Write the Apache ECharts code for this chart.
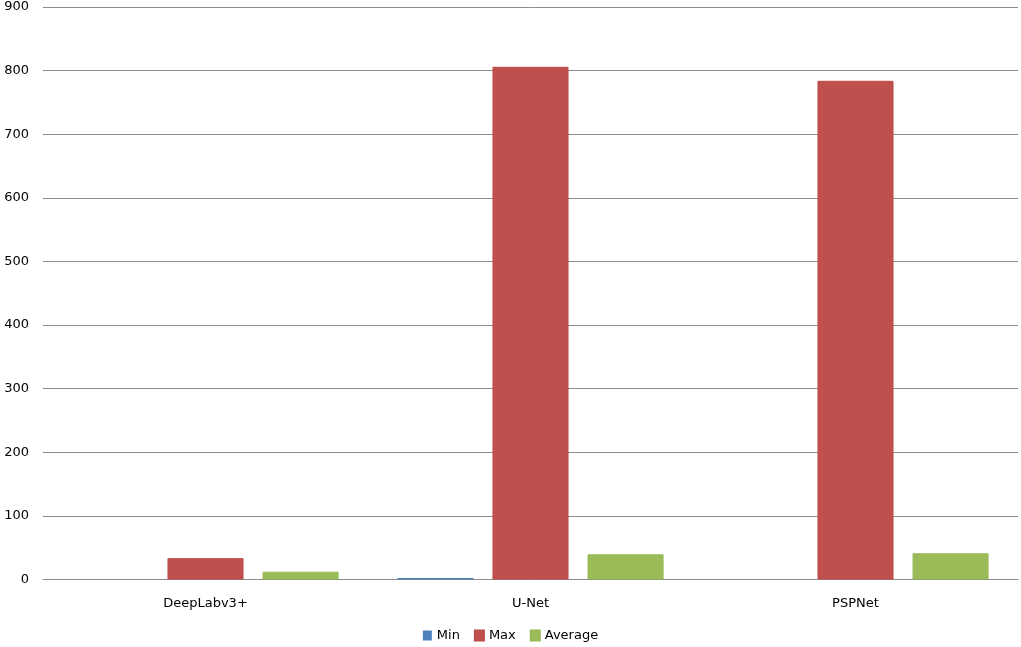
<!DOCTYPE html>
<html>
<head>
<meta charset="utf-8">
<script src="https://cdn.jsdelivr.net/npm/echarts@6/dist/echarts.min.js"></script>
<style>html,body{margin:0;padding:0;background:#fff;}#c{width:1021px;height:647px;}</style>
</head>
<body>
<div id="c"></div>
<script>
const categories = ['DeepLabv3+', 'U-Net', 'PSPNet'];
const minValues = [0, 2.5, 0];
const maxValues = [33.5, 806, 784];
const avgValues = [12.3, 39.6, 41.2];
const yTicks = [0, 100, 200, 300, 400, 500, 600, 700, 800, 900];

const chart = echarts.init(document.getElementById('c'), null, {renderer: 'canvas'});
const font = 'Verdana, "DejaVu Sans", sans-serif';
chart.setOption({
  animation: false,
  backgroundColor: '#fff',
  grid: {left: 43, right: 3, top: 7, bottom: 67.5, containLabel: false},
  legend: {
    bottom: 0, left: 'center',
    itemWidth: 9, itemHeight: 10, itemGap: 14,
    icon: 'rect',
    textStyle: {fontFamily: font, fontSize: 13, color: '#000'},
    data: ['Min', 'Max', 'Average']
  },
  xAxis: {
    type: 'category', data: categories,
    axisTick: {show: false},
    axisLine: {lineStyle: {color: '#8c8c8c', width: 1}},
    axisLabel: {fontFamily: font, fontSize: 13, color: '#000', margin: 18}
  },
  yAxis: {
    type: 'value', min: yTicks[0], max: yTicks[yTicks.length - 1], interval: 100,
    axisLine: {show: false}, axisTick: {show: false},
    splitLine: {lineStyle: {color: '#8c8c8c', width: 1}},
    axisLabel: {fontFamily: font, fontSize: 13, color: '#000', margin: 14}
  },
  series: [
    {name: 'Min', type: 'bar', data: minValues, barWidth: '23.4%', barGap: '25%',
      itemStyle: {color: '#4F81BD', borderColor: '#4A7EBB', borderWidth: 0}},
    {name: 'Max', type: 'bar', data: maxValues, barWidth: '23.4%', barGap: '25%',
      itemStyle: {color: '#C0504D', borderColor: '#BE4B48', borderWidth: 1}},
    {name: 'Average', type: 'bar', data: avgValues, barWidth: '23.4%', barGap: '25%',
      itemStyle: {color: '#9BBB59', borderColor: '#98B954', borderWidth: 1}}
  ]
});
</script>
</body>
</html>
